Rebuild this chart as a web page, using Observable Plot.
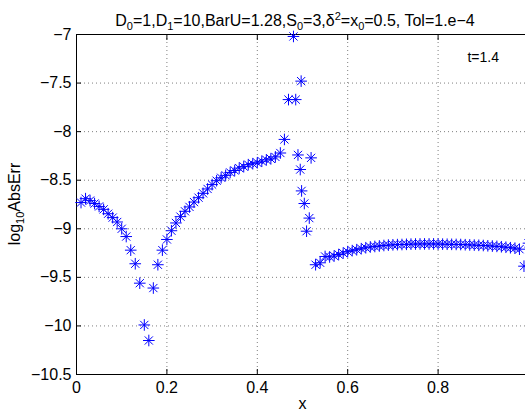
<!DOCTYPE html>
<html><head><meta charset="utf-8">
<script src="https://cdn.jsdelivr.net/npm/d3@7"></script>
<script src="https://cdn.jsdelivr.net/npm/@observablehq/plot@0.6"></script>
<style>
body{margin:0;overflow:hidden;background:#fff;font-family:"Liberation Sans",Arial,Helvetica,sans-serif;}
#wrap{position:relative;width:525px;height:417px;overflow:hidden;background:#fff;}
#chart{position:absolute;left:0;top:0;}
#title{position:absolute;left:45px;width:500px;top:13px;text-align:center;font-size:16px;line-height:16px;white-space:nowrap;color:#000;}
#ylab{position:absolute;left:0;top:0;width:200px;text-align:center;font-size:16px;line-height:16px;white-space:nowrap;transform-origin:0 0;transform:translate(6.5px,304px) rotate(-90deg);color:#000;}
.sb{font-size:11px;position:relative;top:4px;}
.sp{font-size:11px;position:relative;top:-6px;}
</style>
</head><body>
<div id="wrap">
<div id="chart"></div>
<div id="title">D<span class="sb">0</span>=1,D<span class="sb">1</span>=10,BarU=1.28,S<span class="sb">0</span>=3,δ<span class="sp">2</span>=x<span class="sb">0</span>=0.5, Tol=1.e−4</div>
<div id="ylab">log<span class="sb">10</span>AbsErr</div>
</div>
<script>
const xValues = [
 0.01,0.02,0.03,0.04,0.05,0.06,0.07,0.08,0.09,0.10,
 0.11,0.12,0.13,0.14,0.15,0.16,0.17,0.18,0.19,0.20,
 0.21,0.22,0.23,0.24,0.25,0.26,0.27,0.28,0.29,0.30,
 0.31,0.32,0.33,0.34,0.35,0.36,0.37,0.38,0.39,0.40,
 0.41,0.42,0.43,0.44,0.451,0.460,0.469,0.480,0.485,0.490,
 0.495,0.497,0.498,0.504,0.509,0.515,0.519,0.529,0.539,0.55,
 0.56,0.57,0.58,0.59,0.60,0.61,0.62,0.63,0.64,0.65,
 0.66,0.67,0.68,0.69,0.70,0.71,0.72,0.73,0.74,0.75,
 0.76,0.77,0.78,0.79,0.80,0.81,0.82,0.83,0.84,0.85,
 0.86,0.87,0.88,0.89,0.90,0.91,0.92,0.93,0.94,0.95,
 0.96,0.97,0.98,0.99,1.00
];
const logErr = [
 -8.73,-8.69,-8.71,-8.74,-8.77,-8.80,-8.845,-8.885,-8.93,-9.00,
 -9.08,-9.22,-9.36,-9.56,-9.99,-10.15,-9.61,-9.37,-9.22,-9.11,
 -9.02,-8.94,-8.875,-8.82,-8.775,-8.725,-8.68,-8.635,-8.59,-8.545,
 -8.505,-8.475,-8.45,-8.42,-8.40,-8.375,-8.36,-8.34,-8.33,-8.32,
 -8.305,-8.29,-8.28,-8.26,-8.22,-8.08,-7.67,-7.02,-7.67,-8.24,
 -8.39,-7.48,-8.61,-8.74,-9.025,-8.89,-8.27,-9.37,-9.35,-9.285,
 -9.29,-9.28,-9.265,-9.25,-9.235,-9.225,-9.215,-9.205,-9.195,-9.187,
 -9.182,-9.177,-9.172,-9.168,-9.165,-9.163,-9.162,-9.16,-9.158,-9.157,
 -9.156,-9.156,-9.156,-9.156,-9.157,-9.158,-9.159,-9.16,-9.161,-9.162,
 -9.164,-9.166,-9.168,-9.17,-9.172,-9.175,-9.178,-9.181,-9.185,-9.19,
 -9.195,-9.20,-9.21,-9.385,-9.148
];
const xTicks = [0, 0.2, 0.4, 0.6, 0.8, 1];
const xTickLabels = [0, 0.2, 0.4, 0.6, 0.8];
const yTicks = [-10.5, -10, -9.5, -9, -8.5, -8, -7.5, -7];
const annotX = [0.865];
const annotY = [-7.24];
const annotText = ["t=1.4"];

const points = xValues.map((x, i) => ({x, y: logErr[i]}));
const annots = annotX.map((x, i) => ({x, y: annotY[i], t: annotText[i]}));
const fmt = d => (d < 0 ? "\u2212" : "") + String(Math.abs(d));

// MATLAB-style 8-armed asterisk
const star8 = {
  draw(ctx, size) {
    const r = Math.sqrt(size / Math.PI);
    const d = r * Math.SQRT1_2;
    ctx.moveTo(-r, 0); ctx.lineTo(r, 0);
    ctx.moveTo(0, -r); ctx.lineTo(0, r);
    ctx.moveTo(-d, -d); ctx.lineTo(d, d);
    ctx.moveTo(-d, d); ctx.lineTo(d, -d);
  }
};

const gridStyle = {stroke: "#000", strokeOpacity: 0.5, strokeDasharray: "1,3"};

const chart = Plot.plot({
  width: 530,
  height: 417,
  marginTop: 34,
  marginBottom: 43,
  marginLeft: 76,
  marginRight: 2,
  x: {domain: [0, 1]},
  y: {domain: [-10.5, -7]},
  style: {fontFamily: '"Liberation Sans", Arial, Helvetica, sans-serif', fontSize: "16px", background: "white", maxWidth: "none", overflow: "visible", color: "black"},
  marks: [
    Plot.gridX(xTicks, gridStyle),
    Plot.gridY(yTicks, gridStyle),
    Plot.frame({stroke: "black"}),
    Plot.axisX(xTicks, {anchor: "bottom", tickSize: 5, dy: -5, fill: "none", label: null}),
    Plot.axisX(xTicks, {anchor: "top", tickSize: 5, dy: 5, fill: "none", label: null}),
    Plot.axisY(yTicks, {anchor: "left", tickSize: 5, dx: 5, fill: "none", label: null}),
    Plot.axisX(xTickLabels, {anchor: "bottom", tickSize: 0, tickPadding: 7, label: null, tickFormat: fmt}),
    Plot.axisY(yTicks, {anchor: "left", tickSize: 0, tickPadding: 5, label: null, tickFormat: fmt}),
    Plot.dot(points, {x: "x", y: "y", symbol: star8, r: 5.8, stroke: "#0000ff", fill: "none", strokeWidth: 1}),
    Plot.text(annots, {x: "x", y: "y", text: "t", textAnchor: "start", fontSize: 14}),
    Plot.text(["x"], {frameAnchor: "bottom", dy: 34, fontSize: 16})
  ]
});
document.getElementById("chart").appendChild(chart);
</script>
</body></html>
